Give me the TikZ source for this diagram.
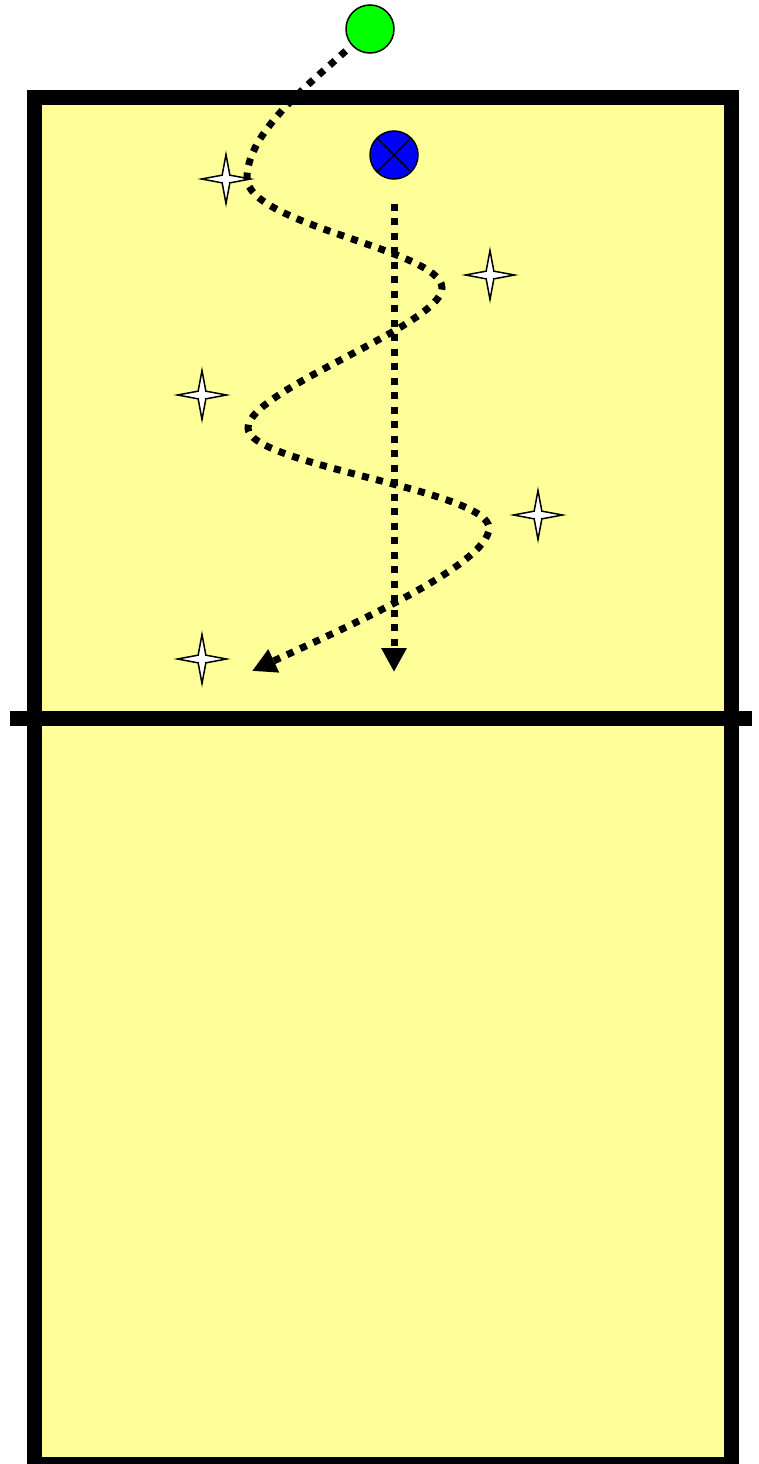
\documentclass[tikz,border=0pt]{standalone}
\usepackage{tikz}
\usetikzlibrary{arrows.meta,shapes.geometric}
\definecolor{ctyellow}{HTML}{FFFF99}
\definecolor{ctgreen}{HTML}{00FF00}
\definecolor{ctblue}{HTML}{0000FF}
\tikzset{
  court/.style={draw=black,line width=15pt,fill=ctyellow},
  netline/.style={draw=black,line width=15pt},
  cone/.style={star,star points=4,star point ratio=4.5,draw=black,line width=1.5pt,
    fill=white,minimum size=49pt,inner sep=0pt},
  disc/.style={circle,draw=black,line width=1.5pt,minimum size=48pt,inner sep=0pt},
  run/.style={line width=7pt,dash pattern=on 7pt off 7.5pt,
    -{Triangle[length=24pt,width=24pt]}},
}

\begin{document}
\begin{tikzpicture}[x=1pt,y=-1pt]
\useasboundingbox (0,0) rectangle (759,1464);
% court and net
\draw[court] (34,97) rectangle (731,1464);
\draw[netline] (10,718) -- (752,718);
% cones
\node[cone] (c1) at (226,179) {};
\node[cone] (c2) at (490,275) {};
\node[cone] (c3) at (202,395) {};
\node[cone] (c4) at (538,515) {};
\node[cone] (c5) at (202,659) {};
% players
\node[disc,fill=ctgreen] (coach) at (370,29) {};
\node[disc,fill=ctblue,path picture={
  \draw[line width=1.5pt] (path picture bounding box.north west) -- (path picture bounding box.south east);
  \draw[line width=1.5pt] (path picture bounding box.north east) -- (path picture bounding box.south west);}]
  (player) at (394,155) {};
\coordinate (runend) at (252,671);
\coordinate (passend) at (394,672);
% routes
\draw[run,shorten <=8pt] (coach) .. controls (308,85) and (247,133) .. (247,178)
  .. controls (247,225) and (442,250) .. (442,288)
  .. controls (442,325) and (248,390) .. (248,428)
  .. controls (248,465) and (489,490) .. (489,528)
  .. controls (489,565) and (340,630) .. (runend);
\draw[run,shorten <=24pt] (player) -- (passend);
\end{tikzpicture}
\end{document}
